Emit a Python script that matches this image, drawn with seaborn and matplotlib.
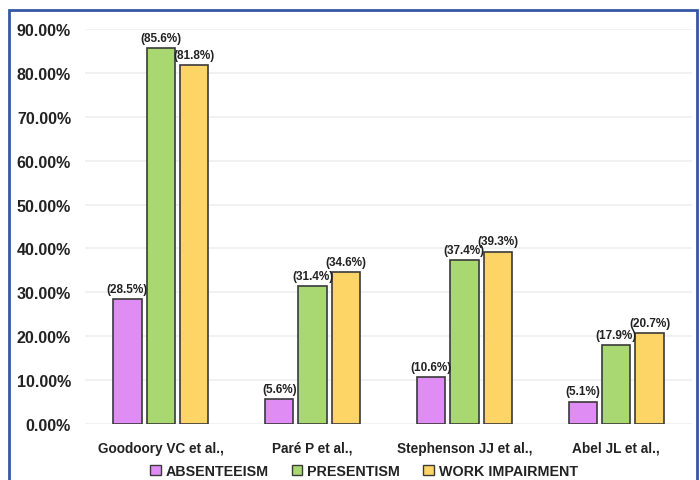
import matplotlib
matplotlib.use("Agg")
import matplotlib.pyplot as plt
import seaborn as sns
import pandas as pd
from matplotlib.patches import Rectangle
from matplotlib.ticker import FuncFormatter
from matplotlib.font_manager import FontProperties

studies = ["Goodoory VC et al.,", "Paré P et al.,", "Stephenson JJ et al.,", "Abel JL et al.,"]
measures = ["ABSENTEEISM", "PRESENTISM", "WORK IMPAIRMENT"]
absenteeism = [28.5, 5.6, 10.6, 5.1]
presentism = [85.6, 31.4, 37.4, 17.9]
work_impairment = [81.8, 34.6, 39.3, 20.7]
yticks = [0, 10, 20, 30, 40, 50, 60, 70, 80, 90]
colors = ["#df8df5", "#a9d872", "#fdd566"]

rows = []
for m, vals in zip(measures, [absenteeism, presentism, work_impairment]):
    for s, v in zip(studies, vals):
        rows.append({"study": s, "measure": m, "value": v})
df = pd.DataFrame(rows)

sns.set_theme(style="white")
plt.rcParams["font.family"] = ["Liberation Sans", "DejaVu Sans"]

fig = plt.figure(figsize=(7.0, 4.81), dpi=100)
ax = fig.add_axes([85/700, 56/481, 607/700, 395/481])

sns.barplot(data=df, x="study", y="value", hue="measure", order=studies,
            hue_order=measures, palette=colors, saturation=1, width=0.66, gap=0.15,
            edgecolor="#3a3a3a", linewidth=1.2, ax=ax, legend=True)

for cont in ax.containers:
    ax.bar_label(cont, labels=[f"({v.get_height():.1f}%)" for v in cont],
                 padding=3, fontsize=8.5, fontweight="bold", color="#222222")

ax.set_ylim(0, 90)
ax.set_xlim(-0.5, 3.5)
ax.set_yticks(yticks)
ax.yaxis.set_major_formatter(FuncFormatter(lambda v, p: f"{v:.2f}%"))
ax.grid(axis="y", color="#efefef", linewidth=1.2)
ax.set_axisbelow(True)
for sp in ax.spines.values():
    sp.set_visible(False)
ax.set_xlabel("")
ax.set_ylabel("")
ax.tick_params(axis="y", labelsize=11.5, pad=10, length=0)
ax.tick_params(axis="x", labelsize=9.8, pad=12, length=0)
for t in ax.get_yticklabels():
    t.set_fontweight("bold")
    t.set_color("#222222")
for t in ax.get_xticklabels():
    t.set_fontweight("bold")
    t.set_color("#222222")

legfont = FontProperties(family="Liberation Sans", weight="bold", size=10.3)
leg = ax.legend(loc="center", bbox_to_anchor=((364 - 85) / 607, (481 - 472 - 56) / 395), ncol=3,
                frameon=False, prop=legfont,
                handlelength=0.75, handleheight=0.75,
                handletextpad=0.35, columnspacing=1.6)
for t in leg.get_texts():
    t.set_color("#222222")
    t.set_fontproperties(legfont)
for h in leg.legend_handles:
    h.set_edgecolor("#3a3a3a")
    h.set_linewidth(1.0)

fig.patches.append(Rectangle((9/700, -0.05), 688/700, 1.05 - 11/481,
                             transform=fig.transFigure, fill=False,
                             edgecolor="#3457a8", linewidth=2.0))

fig.savefig("out.png", dpi=100)
